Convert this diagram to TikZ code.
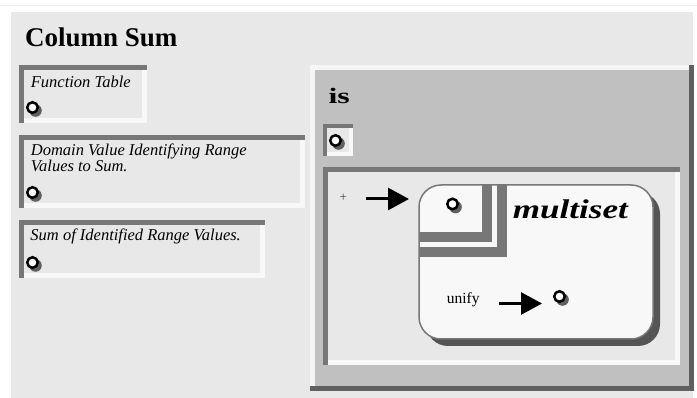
\documentclass[tikz,border=0pt]{standalone}
\usepackage{fontspec}
\setmainfont{Liberation Serif}
\usetikzlibrary{arrows.meta,shadows}

\definecolor{pagerule}{HTML}{EEEEEE}
\definecolor{panel}{HTML}{E8E8E8}
\definecolor{isfill}{HTML}{C0C0C0}
\definecolor{bevdark}{HTML}{777777}
\definecolor{bevlight}{HTML}{F8F8F8}
\definecolor{deepdark}{HTML}{555555}
\definecolor{msfill}{HTML}{F8F8F8}
\definecolor{shadowgray}{HTML}{606060}
\definecolor{plusgray}{HTML}{444444}

% sunken bevel box: x1 y1 x2 y2 border
\newcommand\sunkbox[5]{%
  \fill[bevlight] (#1,#2) rectangle (#3,#4);
  \fill[bevdark] (#1,#2) rectangle (#3,{#2+#5});
  \fill[bevdark] (#1,#2) rectangle ({#1+#5},#4);
  \fill[panel] ({#1+#5},{#2+#5}) rectangle ({#3-#5},{#4-#5});
}

\tikzset{
  lbl/.style={anchor=base west, inner sep=0pt, font=\itshape\fontsize{16.5}{15}\selectfont},
  portc/.style={circle, draw=black, fill=white, line width=2.5pt, minimum size=10.5pt,
    inner sep=0pt, drop shadow={shadow xshift=2.5pt, shadow yshift=-2.5pt,
    shadow scale=1.2, fill=shadowgray, opacity=1}},
  bigarrow/.style={line width=3pt, -{Triangle[length=21pt,width=22pt]}},
}

\begin{document}
\begin{tikzpicture}[x=1pt,y=-1pt]
\useasboundingbox (0,0) rectangle (697,398);
\fill[white] (0,0) rectangle (697,398);
\draw[pagerule, line width=1pt] (0,6) -- (697,6);

% outer panel
\fill[panel] (11,12) rectangle (693,398);
\node[anchor=base west, inner sep=0pt, font=\bfseries\fontsize{27}{30}\selectfont] (title) at (25,46.7) {Column Sum};

% left argument boxes
\sunkbox{19}{65}{147}{123}{5}
\node[lbl] (ftab) at (30.7,87.5) {Function Table};
\node[portc] (c1) at (32.5,107.5) {};

\sunkbox{19}{135}{305}{208}{5}
\node[lbl, align=left] (dom) at (30.7,171.7) {Domain Value Identifying Range\\Values to Sum.};
\node[portc] (c2) at (32.5,192.5) {};

\sunkbox{19}{220}{265}{278}{5}
\node[lbl] (sumv) at (30.3,241) {Sum of Identified Range Values.};
\node[portc] (c3) at (32.5,262.5) {};

% raised "is" box
\fill[shadowgray] (310,65) rectangle (694,391);
\fill[bevlight!80!panel] (310,65) rectangle (689,70);
\fill[bevlight!80!panel] (310,65) rectangle (315,386);
\fill[isfill] (315,70) rectangle (689,386);
\node[anchor=base west, inner sep=0pt, font=\bfseries\fontsize{22}{26}\selectfont] (isl) at (328.3,103.3) {\scalebox{1.45}[1]{is}};

\sunkbox{323}{124}{353}{156}{4}
\node[portc] (c4) at (335.5,140.5) {};

% inner sunken panel
\sunkbox{323}{167}{680}{365}{5}
\node[anchor=center, inner sep=0pt, text=plusgray, font=\fontsize{13}{14}\selectfont] (plus) at (343.3,197.5) {+};
\coordinate (pa) at (366,199);
\coordinate (pb) at (409,199);
\draw[bigarrow] (pa) -- (pb);

% multiset box
\fill[deepdark, rounded corners=22pt] (426,192) rectangle (660,346);
\filldraw[fill=msfill, draw=bevdark, line width=1.5pt, rounded corners=22pt] (419,185) rectangle (653,339);
\fill[bevdark] (482,185) rectangle (492,242);
\fill[bevdark] (419,232) rectangle (492,242);
\fill[bevdark] (497,185) rectangle (507,257);
\fill[bevdark] (419,247) rectangle (507,257);
\node[portc] (c5) at (452.5,204) {};
\node[anchor=base west, inner sep=0pt, font=\bfseries\itshape\fontsize{27}{30}\selectfont] (mset) at (512.7,218.3) {\scalebox{1.3}[1]{multiset}};

\node[anchor=base west, inner sep=0pt, font=\fontsize{15.5}{18}\selectfont] (unify) at (446.7,304) {unify};
\coordinate (ua) at (499,303.5);
\coordinate (ub) at (542,303.5);
\draw[bigarrow] (ua) -- (ub);
\node[portc] (c6) at (559.5,296.5) {};
\end{tikzpicture}
\end{document}
